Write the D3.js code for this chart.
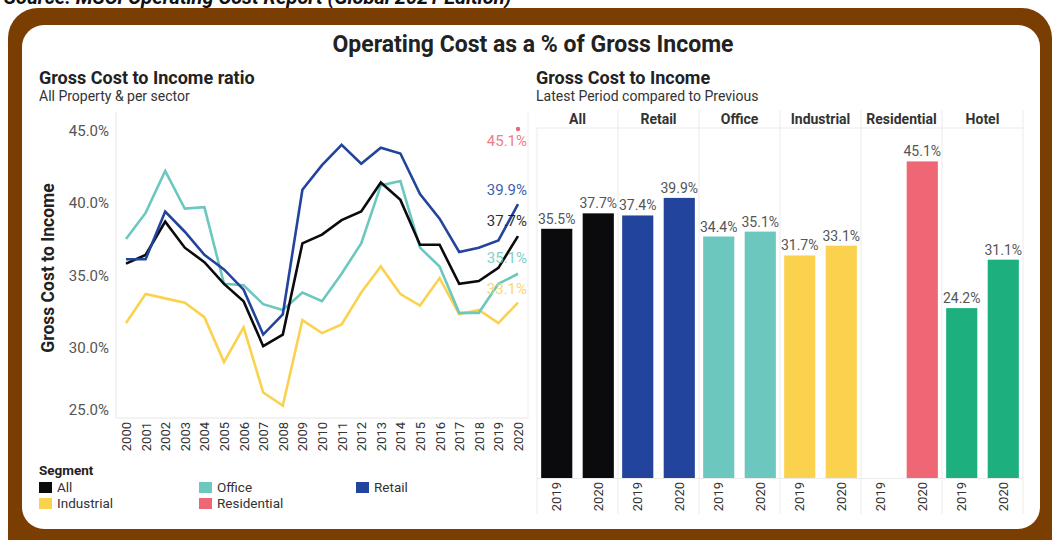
<!DOCTYPE html>
<html>
<head>
<meta charset="utf-8">
<script src="https://cdn.jsdelivr.net/npm/d3@7"></script>
<style>
  body { margin: 0; background: #fff; }
  svg text { font-family: Roboto, "Noto Sans", sans-serif; }
</style>
</head>
<body>
<script>
// line chart data
var years = [2000, 2001, 2002, 2003, 2004, 2005, 2006, 2007, 2008, 2009, 2010,
             2011, 2012, 2013, 2014, 2015, 2016, 2017, 2018, 2019, 2020];
var allSeries = [35.8, 36.4, 38.7, 36.9, 35.9, 34.4, 33.2, 30.1, 30.9, 37.2, 37.8,
                 38.8, 39.4, 41.4, 40.2, 37.1, 37.1, 34.4, 34.6, 35.5, 37.7];
var retailSeries = [36.1, 36.1, 39.4, 38.0, 36.4, 35.4, 34.0, 30.9, 32.3, 40.9, 42.6,
                    44.0, 42.7, 43.8, 43.4, 40.6, 38.9, 36.6, 36.9, 37.4, 39.9];
var officeSeries = [37.5, 39.3, 42.2, 39.6, 39.7, 34.4, 34.3, 33.0, 32.6, 33.8, 33.2,
                    35.1, 37.2, 41.2, 41.5, 36.9, 35.6, 32.4, 32.4, 34.4, 35.1];
var industrialSeries = [31.7, 33.7, 33.4, 33.1, 32.1, 29.0, 31.4, 26.9, 26.0, 31.9, 31.0,
                        31.6, 33.8, 35.6, 33.7, 32.9, 34.8, 32.3, 32.6, 31.7, 33.1];
var residentialSeries = [null, null, null, null, null, null, null, null, null, null, null,
                         null, null, null, null, null, null, null, null, null, 45.1];
var yTicks = [25, 30, 35, 40, 45];

// bar chart data
var sectors = ["All", "Retail", "Office", "Industrial", "Residential", "Hotel"];
var periods = ["2019", "2020"];
var previous = [35.5, 37.4, 34.4, 31.7, null, 24.2];
var latest = [37.7, 39.9, 35.1, 33.1, 45.1, 31.1];

var colors = {
    All: "#0b0b0d", Retail: "#22449c", Office: "#6cc8bf",
    Industrial: "#fbd24e", Residential: "#ef6674", Hotel: "#1daf7d"
};

function chart() {
    var width = 1057,
        height = 540;
    var svg = d3.select("body")
        .append("svg")
        .attr("width", width)
        .attr("height", height);

    // source line above the frame (its top is cut by the page edge in the original)
    svg.append("text")
        .attr("x", 4).attr("y", 4)
        .style("font-size", "20px").style("font-weight", "bold").style("font-style", "italic")
        .attr("fill", "#111")
        .text("Source: MSCI Operating Cost Report (Global 2021 Edition)");

    // brown frame
    svg.append("rect")
        .attr("x", 8).attr("y", 8).attr("width", 1044).attr("height", 580)
        .attr("rx", 30).attr("fill", "#7a3e02");
    svg.append("rect")
        .attr("x", 22).attr("y", 25).attr("width", 1018).attr("height", 504)
        .attr("rx", 22).attr("fill", "#fff");

    svg.append("text")
        .attr("x", 533).attr("y", 52)
        .attr("text-anchor", "middle")
        .style("font-size", "23px").style("font-weight", "bold")
        .attr("fill", "#222")
        .text("Operating Cost as a % of Gross Income");

    // ---------- left: line chart ----------
    svg.append("text").attr("x", 39).attr("y", 84)
        .style("font-size", "18px").style("font-weight", "bold").attr("fill", "#222")
        .text("Gross Cost to Income ratio");
    svg.append("text").attr("x", 39).attr("y", 101)
        .style("font-size", "14px").attr("fill", "#333")
        .text("All Property & per sector");

    var x = d3.scaleLinear().domain([2000, 2020]).range([126, 518]);
    var y = d3.scaleLinear().domain([25, 46.2]).range([420, 113]);

    // pane borders
    svg.append("line").attr("x1", 116).attr("x2", 116).attr("y1", 112).attr("y2", 418)
        .attr("stroke", "#e6e6e6");
    svg.append("line").attr("x1", 116).attr("x2", 528).attr("y1", 418).attr("y2", 418)
        .attr("stroke", "#e6e6e6");
    svg.append("line").attr("x1", 528).attr("x2", 528).attr("y1", 112).attr("y2", 418)
        .attr("stroke", "#ececec");

    var yAxis = svg.append("g")
        .attr("transform", "translate(116,0)")
        .call(d3.axisLeft(y).tickValues(yTicks).tickSize(0).tickPadding(7)
            .tickFormat(function (d) { return d.toFixed(1) + "%"; }));
    yAxis.select(".domain").remove();
    yAxis.selectAll("text")
        .style("font-size", "15px").attr("fill", "#555")
        .attr("y", function (d) { return d === 25 ? -10 : 0; });

    svg.append("text")
        .attr("transform", "translate(54,268) rotate(-90)")
        .attr("text-anchor", "middle")
        .style("font-size", "17.5px").style("font-weight", "bold").attr("fill", "#222")
        .text("Gross Cost to Income");

    var xAxis = svg.append("g")
        .attr("transform", "translate(0,418)")
        .call(d3.axisBottom(x).tickValues(years).tickSize(0).tickFormat(d3.format("d")));
    xAxis.select(".domain").remove();
    xAxis.selectAll("text")
        .style("font-size", "13px").attr("fill", "#333")
        .attr("transform", "rotate(-90)")
        .attr("text-anchor", "end")
        .attr("x", -4).attr("y", 0).attr("dy", "0.35em");

    var series = [
        { name: "Industrial", values: industrialSeries, dy: -14 },
        { name: "Office", values: officeSeries, dy: -16 },
        { name: "All", values: allSeries, dy: -15 },
        { name: "Retail", values: retailSeries, dy: -14 },
        { name: "Residential", values: residentialSeries, dy: 12 }
    ];
    var line = d3.line()
        .defined(function (d) { return d != null; })
        .x(function (d, i) { return x(years[i]); })
        .y(function (d) { return y(d); });

    svg.selectAll(".series")
        .data(series)
        .enter()
        .append("path")
        .attr("class", "series")
        .attr("d", function (d) { return line(d.values); })
        .attr("fill", "none")
        .attr("stroke", function (d) { return colors[d.name]; })
        .attr("stroke-width", 2.6)
        .attr("stroke-linejoin", "miter");

    // residential has a single point
    svg.append("circle")
        .attr("cx", x(years[20])).attr("cy", y(residentialSeries[20]))
        .attr("r", 2.2).attr("fill", colors.Residential);

    svg.selectAll(".endlabel")
        .data(series)
        .enter()
        .append("text")
        .attr("class", "endlabel")
        .attr("x", 527)
        .attr("y", function (d) { return y(d.values[20]) + d.dy; })
        .attr("dy", "0.35em")
        .attr("text-anchor", "end")
        .style("font-size", "15px")
        .attr("fill", function (d) { return colors[d.name]; })
        .attr("opacity", 0.85)
        .text(function (d) { return d.values[20].toFixed(1) + "%"; });

    // legend
    svg.append("text").attr("x", 39).attr("y", 475)
        .style("font-size", "13.5px").style("font-weight", "bold").attr("fill", "#222")
        .text("Segment");
    var legendItems = [
        { name: "All", x: 39, y: 487 }, { name: "Office", x: 199, y: 487 },
        { name: "Retail", x: 356, y: 487 }, { name: "Industrial", x: 39, y: 503 },
        { name: "Residential", x: 199, y: 503 }
    ];
    var leg = svg.selectAll(".leg")
        .data(legendItems)
        .enter()
        .append("g")
        .attr("class", "leg")
        .attr("transform", function (d) { return "translate(" + d.x + "," + d.y + ")"; });
    leg.append("rect").attr("x", 0).attr("y", -5).attr("width", 13).attr("height", 11)
        .attr("fill", function (d) { return colors[d.name]; });
    leg.append("text").attr("x", 18).attr("dy", "0.35em")
        .style("font-size", "13.5px").attr("fill", "#333")
        .text(function (d) { return d.name; });

    // ---------- right: bar chart ----------
    svg.append("text").attr("x", 536).attr("y", 84)
        .style("font-size", "18px").style("font-weight", "bold").attr("fill", "#222")
        .text("Gross Cost to Income");
    svg.append("text").attr("x", 536).attr("y", 101)
        .style("font-size", "14px").attr("fill", "#333")
        .text("Latest Period compared to Previous");

    var xs = d3.scaleBand().domain(sectors).range([537, 1023]);
    var xp = d3.scaleBand().domain(periods).range([0, xs.bandwidth()])
        .paddingInner(0.25).paddingOuter(0.1);
    var yb = d3.scaleLinear().domain([0, 50]).range([478, 127]);

    // column separators and header line
    svg.selectAll(".sep")
        .data(sectors.concat(["end"]))
        .enter()
        .append("line")
        .attr("class", "sep")
        .attr("x1", function (d, i) { return 537 + i * xs.bandwidth(); })
        .attr("x2", function (d, i) { return 537 + i * xs.bandwidth(); })
        .attr("y1", function (d, i) { return i === 0 ? 128 : 110; })
        .attr("y2", 514)
        .attr("stroke", "#ebebeb");
    svg.append("line").attr("x1", 537).attr("x2", 1023).attr("y1", 128).attr("y2", 128)
        .attr("stroke", "#ebebeb");
    svg.append("line").attr("x1", 537).attr("x2", 1023).attr("y1", 478.5).attr("y2", 478.5)
        .attr("stroke", "#ebebeb");

    svg.selectAll(".colhead")
        .data(sectors)
        .enter()
        .append("text")
        .attr("class", "colhead")
        .attr("x", function (d) { return xs(d) + xs.bandwidth() / 2; })
        .attr("y", 119).attr("dy", "0.35em")
        .attr("text-anchor", "middle")
        .style("font-size", "14px").style("font-weight", "bold").attr("fill", "#333")
        .text(function (d) { return d; });

    var barData = [];
    sectors.forEach(function (s, i) {
        barData.push({ sector: s, period: "2019", value: previous[i] });
        barData.push({ sector: s, period: "2020", value: latest[i] });
    });

    svg.selectAll(".bar")
        .data(barData.filter(function (d) { return d.value != null; }))
        .enter()
        .append("rect")
        .attr("class", "bar")
        .attr("x", function (d) { return xs(d.sector) + xp(d.period); })
        .attr("width", xp.bandwidth())
        .attr("y", function (d) { return yb(d.value); })
        .attr("height", function (d) { return yb(0) - yb(d.value); })
        .attr("fill", function (d) { return colors[d.sector]; });

    svg.selectAll(".barlabel")
        .data(barData.filter(function (d) { return d.value != null; }))
        .enter()
        .append("text")
        .attr("class", "barlabel")
        .attr("x", function (d) { return xs(d.sector) + xp(d.period) + xp.bandwidth() / 2; })
        .attr("y", function (d) { return yb(d.value) - 5; })
        .attr("text-anchor", "middle")
        .style("font-size", "14px").attr("fill", "#555")
        .text(function (d) { return d.value.toFixed(1) + "%"; });

    svg.selectAll(".yearlabel")
        .data(barData)
        .enter()
        .append("text")
        .attr("class", "yearlabel")
        .attr("transform", function (d) {
            return "translate(" + (xs(d.sector) + xp(d.period) + xp.bandwidth() / 2) + ",482) rotate(-90)";
        })
        .attr("text-anchor", "end")
        .attr("dy", "0.35em")
        .style("font-size", "13px").attr("fill", "#333")
        .text(function (d) { return d.period; });
}
chart();
</script>
</body>
</html>
